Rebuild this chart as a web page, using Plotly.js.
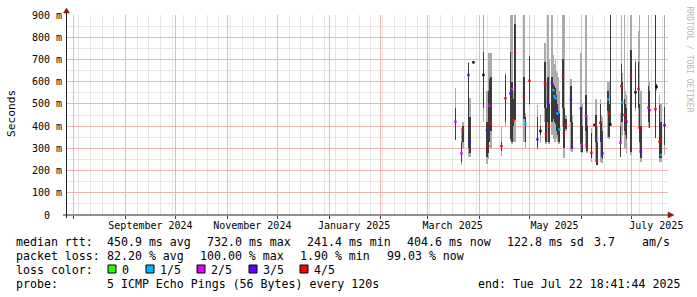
<!DOCTYPE html>
<html><head><meta charset="utf-8">
<script src="https://cdn.plot.ly/plotly-3.0.1.min.js"></script>
<style>html,body{margin:0;padding:0;background:#fff;}#chart{width:697px;height:297px;}</style>
</head><body><div id="chart"></div>
<script>
// ---- data ----
const times = ["2025-03-17 16:00","2025-03-21 06:00","2025-03-22 04:00","2025-03-25 11:00","2025-03-26 08:00","2025-03-28 11:00",
"2025-04-03 11:00","2025-04-05 13:00","2025-04-06 11:00","2025-04-07 01:00","2025-04-07 23:00","2025-04-14 06:00","2025-04-16 15:00",
"2025-04-19 15:00","2025-04-20 13:00","2025-04-21 10:00","2025-04-22 08:00","2025-04-27 17:00","2025-04-28 14:00","2025-05-01 00:00",
"2025-05-05 19:00","2025-05-07 14:00","2025-05-10 07:00","2025-05-10 21:00","2025-05-12 02:00","2025-05-12 16:00","2025-05-14 12:00",
"2025-05-15 09:00","2025-05-16 00:00","2025-05-16 14:00","2025-05-17 04:00","2025-05-17 19:00","2025-05-18 09:00","2025-05-18 21:00",
"2025-05-21 02:00","2025-05-21 16:00","2025-05-22 21:00","2025-05-25 21:00","2025-05-26 11:00","2025-05-31 20:00","2025-06-01 10:00",
"2025-06-03 20:00","2025-06-04 10:00","2025-06-07 03:00","2025-06-08 22:00","2025-06-09 19:00","2025-06-10 10:00","2025-06-12 12:00",
"2025-06-13 02:00","2025-06-13 17:00","2025-06-17 00:00","2025-06-17 14:00","2025-06-18 12:00","2025-06-24 12:00","2025-06-25 02:00",
"2025-06-25 17:00","2025-06-26 22:00","2025-06-27 12:00","2025-06-28 02:00","2025-06-30 19:00","2025-07-03 12:00","2025-07-05 07:00",
"2025-07-05 22:00","2025-07-06 19:00","2025-07-11 07:00","2025-07-11 22:00","2025-07-15 12:00","2025-07-16 03:00","2025-07-17 22:00",
"2025-07-18 19:00","2025-07-20 22:00"];
// outer smoke (ms)
const smokeLo = [338,225,300,262,262,683,420,230,250,330,300,265,400,335,320,330,330,330,300,490,292,322,420,320,330,320,360,340,330,330,340,330,330,320,400,255,380,290,285,285,277,300,280,240,400,240,225,240,235,232,345,340,405,262,330,360,300,300,280,270,470,400,280,240,391,391,345,560,240,240,270];
const smokeHi = [570,390,420,690,525,690,950,560,727,727,730,395,640,950,950,560,950,950,460,720,495,450,772,600,950,700,950,720,680,700,650,640,620,560,950,950,450,610,450,727,500,950,450,390,410,520,400,520,450,440,600,600,950,460,950,640,950,560,540,950,700,830,950,560,950,600,950,590,540,500,950];
// dense core of the smoke (ms)
const coreLo = [338,240,330,300,280,683,480,260,280,330,380,290,420,340,330,400,427,430,330,500,300,360,480,330,420,330,420,430,420,410,380,360,340,330,480,300,385,420,300,320,285,380,290,255,400,330,225,330,260,250,470,350,410,262,420,420,380,360,340,285,480,480,330,255,420,391,345,565,255,255,315];
const coreHi = [480,330,400,682,440,690,735,420,560,610,620,330,630,735,600,520,860,620,440,715,440,400,690,480,620,500,620,590,580,570,540,500,470,460,700,480,430,580,420,487,400,540,400,367,410,450,330,500,420,380,560,500,950,400,680,600,520,500,480,742,690,690,500,400,579,560,950,590,495,420,487];
// median rtt (ms)
const median = [420,277,382,630,330,687,630,382,310,492,412,310,525,547,567,427,730,535,412,604,340,378,592,365,505,400,592,562,535,525,480,457,445,385,622,370,405,520,303,480,320,445,315,280,405,405,245,415,345,277,520,457,407,325,580,507,450,427,420,627,552,567,393,285,483,472,477,577,330,270,405];
// lost pings out of 5 (5 = drawn black)
const lossLevel = [2,2,4,3,3,5,5,3,4,2,4,4,4,3,2,4,4,4,1,4,3,5,4,4,3,4,3,1,1,1,3,1,3,1,4,4,4,3,3,3,2,2,4,4,5,4,4,4,3,3,1,4,5,2,4,1,4,4,3,4,5,4,4,3,4,3,4,5,4,1,3];
const lossColors = ['#26ff00','#00b8ff','#dd00ff','#5e00ff','#ff0000','#000000'];
const lossLabels = ['0','1/5','2/5','3/5','4/5'];

const monthStarts = ['2024-08-01','2024-09-01','2024-10-01','2024-11-01','2024-12-01','2025-01-01','2025-02-01','2025-03-01','2025-04-01','2025-05-01','2025-06-01','2025-07-01'];
const labelDates = ['2024-09-16','2024-11-16','2025-01-16','2025-03-16','2025-05-16','2025-07-16'];
const labelText = ['September 2024','November 2024','January 2025','March 2025','May 2025','July 2025'];
const yTicks = [0,100,200,300,400,500,600,700,800,900];
const yTickText = ['0\u00a0\u00a0','100 m','200 m','300 m','400 m','500 m','600 m','700 m','800 m','900 m'];
const yMinorTicks = [50,150,250,350,450,550,650,750,850];

const rttStats = ['median rtt:','450.9 ms avg','732.0 ms max','241.4 ms min','404.6 ms now','122.8 ms sd','3.7','am/s'];
const lossStats = ['packet loss:','82.20 % avg','100.00 % max','1.90 % min','99.03 % now'];
const lossColorTitle = 'loss color:';
const probeTitle = 'probe:';
const probeText = '5 ICMP Echo Pings (56 Bytes) every 120s';
const endText = 'end: Tue Jul 22 18:41:44 2025';
const watermark = 'RRDTOOL / TOBI OETIKER';
const yTitle = 'Seconds';

// ---- layout geometry ----
const W=697,H=297,L=67,R=29,T=15,B=82;
const PW=W-L-R, PH=H-T-B;
const px = x => (x-L)/PW;
const py = y => (T+PH-y)/PH;
const MONO = 'DejaVu Sans Mono';
const xRange = ['2024-07-28 00:00','2025-07-23 00:00'];
const barW = 0.95*86400000;
const MAJOR = '#f0b4b4', MINOR = '#e6e6e6';

const traces = [
  {type:'bar', x:times, base:smokeLo, y:smokeHi.map((h,i)=>h-smokeLo[i]), width:barW,
   marker:{color:'#ababab', line:{width:0}}, hoverinfo:'skip'},
  {type:'bar', x:times, base:coreLo, y:coreHi.map((h,i)=>h-coreLo[i]), width:barW,
   marker:{color:'#3a3a3a', line:{width:0}}, hoverinfo:'skip'},
  {type:'scatter', mode:'markers', x:times, y:median, xaxis:'x2',
   marker:{symbol:'square', size:2.4, color:lossLevel.map(l=>lossColors[l]), line:{width:0}}, hoverinfo:'skip'}
];

const ann = [];
const txt = (text,x,y,opts={}) => ann.push(Object.assign({text, x:px(x), y:py(y), xref:'paper', yref:'paper',
  xanchor:'left', yanchor:'middle', showarrow:false, borderpad:0, borderwidth:0,
  font:{family:MONO, size:11.6, color:'#000'}}, opts));

const rttX = [16,107,207,307,407,507,594,642];
rttStats.forEach((s,i)=>txt(s, rttX[i], 241.5));
const lossX = [16,107,200,300,387];
lossStats.forEach((s,i)=>txt(s, lossX[i], 255.5));
txt(lossColorTitle, 16, 269.5);
const boxX = [108,146,197,249,300];
const boxLabelX = [122,160,211,263,314];
lossLabels.forEach((s,i)=>txt(s, boxLabelX[i], 269.5));
txt(probeTitle, 16, 283.5);
txt(probeText, 107, 283.5);
txt(endText, 680, 283.5, {xanchor:'right'});
ann.push({text:yTitle, x:px(11), y:py(114), xref:'paper', yref:'paper', xanchor:'center', yanchor:'middle',
  textangle:-90, showarrow:false, font:{family:MONO, size:11.2, color:'#000'}});
ann.push({text:watermark, x:px(688.5), y:py(59), xref:'paper', yref:'paper', xanchor:'center', yanchor:'middle',
  textangle:90, showarrow:false, font:{family:MONO, size:8, color:'#b8b8b8'}});

const shapes = [];
boxX.forEach((bx,i)=>shapes.push({type:'rect', xref:'paper', yref:'paper', x0:px(bx), x1:px(bx+8), y0:py(273), y1:py(265),
  fillcolor:lossColors[i], line:{color:'#000', width:1}}));
// axes lines and arrows
shapes.push({type:'line', xref:'paper', yref:'paper', x0:px(63), x1:px(669), y0:py(215), y1:py(215), line:{color:'#222', width:1}, layer:'above'});
shapes.push({type:'line', xref:'paper', yref:'paper', x0:px(66.5), x1:px(66.5), y0:py(218), y1:py(12), line:{color:'#222', width:1}, layer:'above'});
shapes.push({type:'path', xref:'paper', yref:'paper', layer:'above',
  path:`M${px(63.5)},${py(13)} L${px(69.5)},${py(13)} L${px(66.5)},${py(8)} Z`, fillcolor:'#8b1a1a', line:{color:'#8b1a1a', width:0.5}});
shapes.push({type:'path', xref:'paper', yref:'paper', layer:'above',
  path:`M${px(668)},${py(212)} L${px(668)},${py(218)} L${px(674)},${py(215)} Z`, fillcolor:'#8b1a1a', line:{color:'#8b1a1a', width:0.5}});

const layout = {
  width:W, height:H, margin:{l:L, r:R, t:T, b:B, pad:0},
  paper_bgcolor:'#fff', plot_bgcolor:'#fff', showlegend:false, barmode:'overlay', bargap:0,
  font:{family:MONO, size:10, color:'#000'},
  xaxis:{type:'date', range:xRange, tickmode:'array', tickvals:monthStarts, showticklabels:false,
    showgrid:true, gridcolor:MAJOR, gridwidth:1, zeroline:false, showline:false,
    ticks:'outside', ticklen:3, tickcolor:'#444', tickwidth:1,
    minor:{tickmode:'linear', tick0:'2024-07-28', dtick:604800000, showgrid:true, gridcolor:MINOR, gridwidth:1, ticks:''}},
  xaxis2:{type:'date', range:xRange, overlaying:'x', anchor:'y', side:'bottom', tickmode:'array', tickvals:labelDates, ticktext:labelText,
    showgrid:false, zeroline:false, showline:false, ticks:'', ticklabelstandoff:3, tickfont:{family:MONO, size:10, color:'#000'}},
  yaxis:{range:[0,900], tickmode:'array', tickvals:yTicks, ticktext:yTickText, showgrid:true, gridcolor:MAJOR,
    zeroline:false, showline:false, ticks:'', ticklabelstandoff:4, tickfont:{family:MONO, size:10, color:'#000'},
    minor:{tickmode:'array', tickvals:yMinorTicks, showgrid:true, gridcolor:MINOR, gridwidth:1, ticks:''}},
  annotations:ann, shapes:shapes
};
Plotly.newPlot('chart', traces, layout, {staticPlot:true, displayModeBar:false});
</script></body></html>
